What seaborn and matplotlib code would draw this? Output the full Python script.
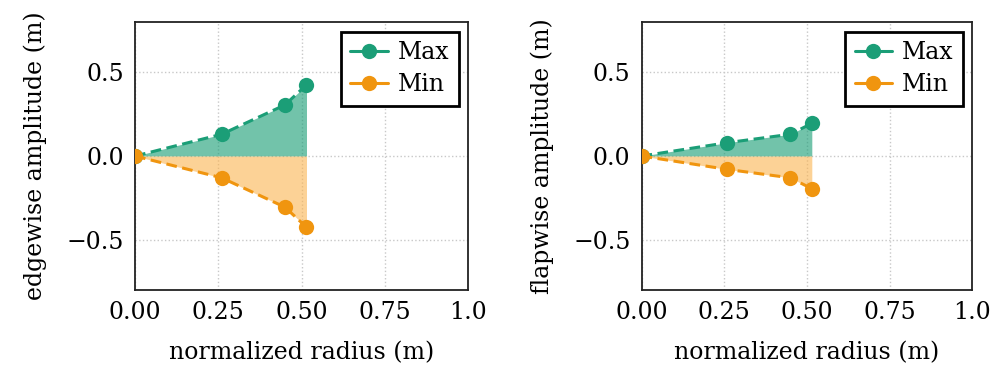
import numpy as np
import pandas as pd
import seaborn as sns
import matplotlib.pyplot as plt

sns.set_style("white")
plt.rcParams['font.family'] = ['DejaVu Serif']
plt.rcParams['font.size'] = 17
plt.rcParams['text.color'] = 'black'
plt.rcParams['axes.labelcolor'] = 'black'

# values
radius = [0.0, 0.26, 0.45, 0.515]
edge_max = [0.0, 0.13, 0.305, 0.425]
edge_min = [0.0, -0.13, -0.305, -0.425]
flap_max = [0.0, 0.08, 0.13, 0.195]
flap_min = [0.0, -0.08, -0.13, -0.195]
xticks = [0.0, 0.25, 0.5, 0.75, 1.0]
xticklabels = ['0.00', '0.25', '0.50', '0.75', '1.0']
yticks = [-0.5, 0.0, 0.5]

green = "#1b9e77"
orange = "#f0950f"

fig = plt.figure(figsize=(9.9, 3.65), dpi=100)
ax1 = fig.add_axes([0.1364, 0.2055, 0.3363, 0.734])
ax2 = fig.add_axes([0.648, 0.2055, 0.334, 0.734])

panels = [(ax1, edge_max, edge_min, 'edgewise amplitude (m)'),
          (ax2, flap_max, flap_min, 'flapwise amplitude (m)')]

for ax, ymax, ymin, ylab in panels:
    df = pd.DataFrame({'r': radius * 2, 'amp': ymax + ymin,
                       'kind': ['Max'] * len(radius) + ['Min'] * len(radius)})
    ax.fill_between(radius, 0, ymax, color=green, alpha=0.62, lw=0)
    ax.fill_between(radius, ymin, 0, color="#fbb450", alpha=0.6, lw=0)
    sns.lineplot(data=df, x='r', y='amp', hue='kind', palette=[green, orange],
                 marker='o', markersize=11, markeredgewidth=0, linewidth=2.2,
                 linestyle='--', ax=ax, zorder=3)
    for line in ax.get_lines():
        line.set_dashes([3.5, 1.8])
    ax.set_xlim(0, 1)
    ax.set_ylim(-0.8, 0.8)
    ax.set_xticks(xticks)
    ax.set_xticklabels(xticklabels)
    ax.set_yticks(yticks)
    ax.set_xlabel('normalized radius (m)', labelpad=12)
    ax.set_ylabel(ylab, labelpad=14)
    ax.grid(True, linestyle=':', color='#c8c8c8', linewidth=1)
    ax.tick_params(direction='in', length=6, width=1.2, pad=8, colors='black',
                   labelcolor='black')
    for s in ax.spines.values():
        s.set_color('#222222')
        s.set_linewidth(1.3)
    ax.set_axisbelow(True)
    leg = ax.legend(loc='upper right', frameon=True, fancybox=False,
                    handlelength=1.6, handletextpad=0.4, borderpad=0.4,
                    borderaxespad=0.4, labelspacing=0.4)
    leg.get_frame().set_edgecolor('black')
    leg.get_frame().set_linewidth(2)
    leg.get_frame().set_alpha(1)
    for h in leg.get_lines():
        h.set_linestyle('-')

fig.savefig('out.png', dpi=100)
